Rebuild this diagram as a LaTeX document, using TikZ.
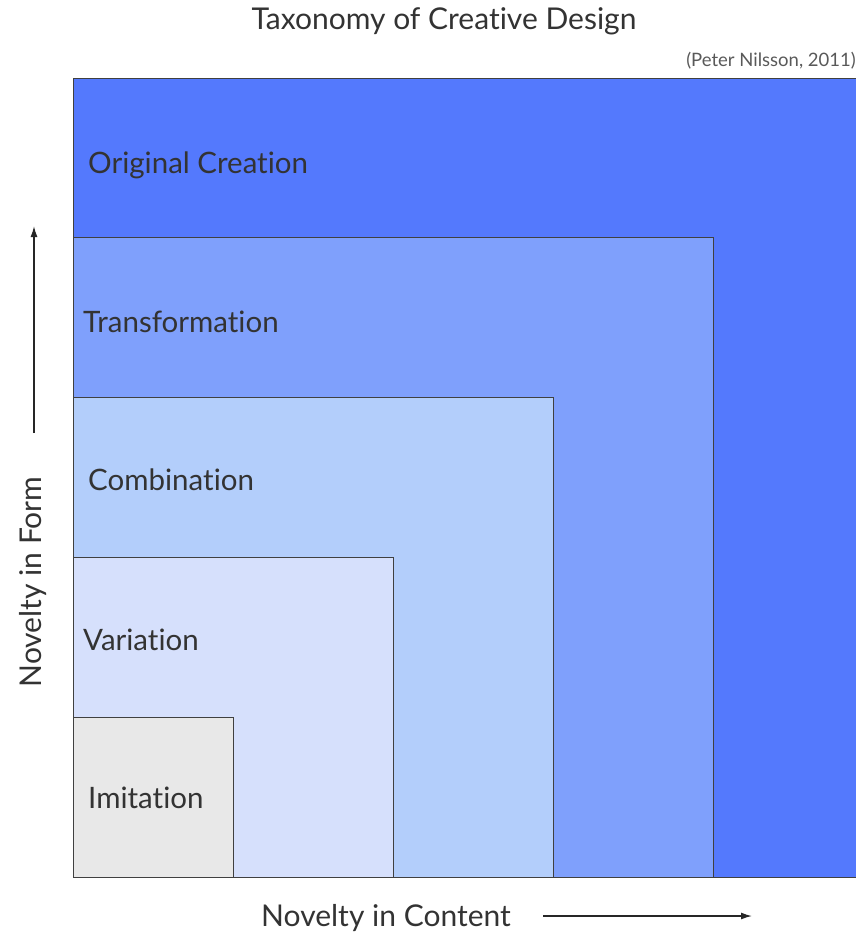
\documentclass[tikz,border=0pt]{standalone}
\usepackage{fontspec}
\setmainfont{Lato}[Ligatures=NoCommon]
\usetikzlibrary{positioning,arrows.meta}

\definecolor{creationblue}{HTML}{5479FD}
\definecolor{transformblue}{HTML}{7FA0FC}
\definecolor{combineblue}{HTML}{B3CEFB}
\definecolor{variationblue}{HTML}{D6E0FC}
\definecolor{imitationgray}{HTML}{E8E8E8}

\begin{document}
\begin{tikzpicture}[x=1pt, y=-1pt,
		box/.style={rectangle, draw=black!75, line width=1pt, anchor=south west, inner sep=0pt},
		level/.style={text=black!80, inner sep=0pt, font=\fontsize{29.5}{34}\selectfont},
		axis/.style={text=black!80, inner sep=0pt, font=\fontsize{30}{34}\selectfont},
		arrowline/.style={-{Latex[length=11pt,width=7pt]}, line width=1.4pt, black!85}
]

\clip (0,0) rectangle (856,939);
\coordinate (corner) at (73,878);

% nested squares, largest first
\node [box, fill=creationblue, minimum width=800pt, minimum height=799pt] (creation) at (corner) {};
\node [box, fill=transformblue, minimum width=640pt, minimum height=640pt] (transform) at (corner) {};
\node [box, fill=combineblue, minimum width=480pt, minimum height=480pt] (combine) at (corner) {};
\node [box, fill=variationblue, minimum width=320pt, minimum height=320pt] (variation) at (corner) {};
\node [box, fill=imitationgray, minimum width=160pt, minimum height=160pt] (imitation) at (corner) {};

% level names
\node [level, right=15pt of creation.north west, anchor=base west, yshift=-95pt] (creationlbl) {Original Creation};
\node [level, right=10pt of transform.north west, anchor=base west, yshift=-95pt] (transformlbl) {Transformation};
\node [level, right=15pt of combine.north west, anchor=base west, yshift=-93pt] (combinelbl) {Combination};
\node [level, right=10pt of variation.north west, anchor=base west, yshift=-93pt] (variationlbl) {Variation};
\node [level, right=15pt of imitation.north west, anchor=base west, yshift=-91pt] (imitationlbl) {Imitation};

% title and source
\node [axis] (title) at (444,21) {Taxonomy of Creative Design};
\node [anchor=east, inner sep=0pt, text=black!65, font=\fontsize{18.5}{22}\selectfont] (source) at (856,61) {(Peter Nilsson, 2011)};

% axes
\node [axis] (content) at (386,918) {Novelty in Content};
\coordinate (contentstart) at (543,916);
\coordinate (contentend) at (752,916);
\draw [arrowline] (contentstart) -- (contentend);

\node [axis, rotate=90] (form) at (33,582) {Novelty in Form};
\coordinate (formstart) at (34,433);
\coordinate (formend) at (34,226);
\draw [arrowline] (formstart) -- (formend);

\end{tikzpicture}
\end{document}
